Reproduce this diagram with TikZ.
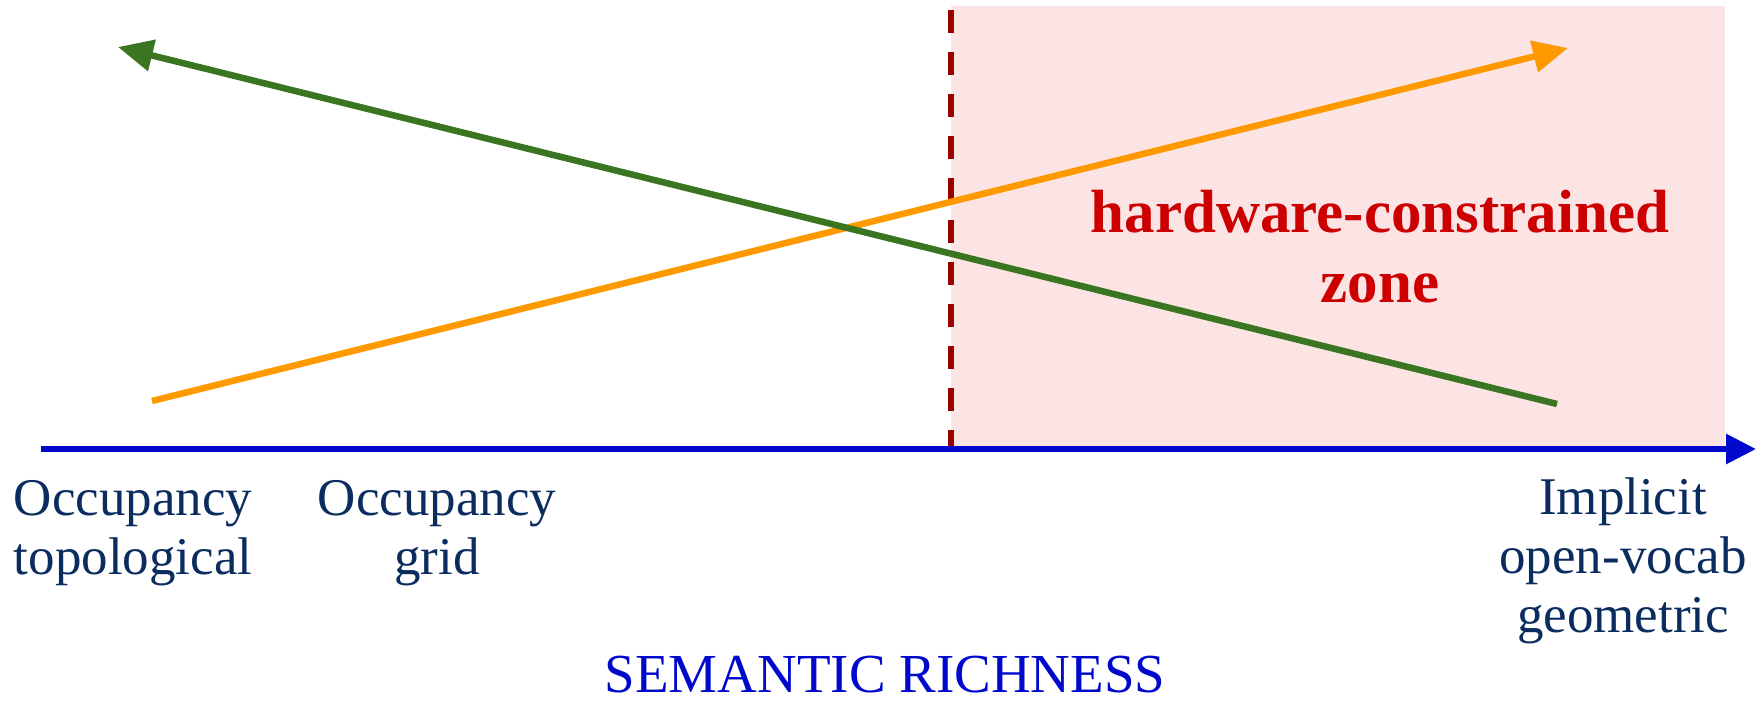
\documentclass[tikz,border=0pt]{standalone}
\usepackage{fontspec}
\setmainfont{Liberation Serif}
\usetikzlibrary{arrows.meta}
\definecolor{axisblue}{RGB}{0,8,204}
\definecolor{lgreen}{RGB}{58,118,34}
\definecolor{lorange}{RGB}{255,153,0}
\definecolor{zonepink}{RGB}{252,228,228}
\definecolor{dashred}{RGB}{153,0,0}
\definecolor{zonered}{RGB}{204,0,0}
\definecolor{labnavy}{RGB}{11,44,95}
\tikzset{
  trend/.style={line width=6.5pt, -{Triangle[length=35pt,width=31pt]}},
  lab/.style={inner sep=0pt, align=center, text=labnavy, font=\fontsize{53}{59}\selectfont, anchor=north},
  zonelab/.style={inner sep=0pt, align=center, text=zonered, font=\bfseries\fontsize{61}{70}\selectfont, anchor=north},
}
\begin{document}
\begin{tikzpicture}[x=1pt,y=-1pt]
\useasboundingbox (0,0) rectangle (1756,702);
% zone
\fill[zonepink] (951,6) rectangle (1725,449);
% dashed boundary
\coordinate (d0) at (951,10);
\coordinate (d1) at (951,449);
\draw[dashred, line width=6pt, dash pattern=on 23pt off 19pt] (d0) -- (d1);
% axis
\coordinate (ax0) at (41,449);
\coordinate (ax1) at (1756,449);
\draw[axisblue, line width=6pt, -{Triangle[length=30pt,width=29pt]}] (ax0) -- (ax1);
% trends
\coordinate (g0) at (1557,404);
\coordinate (g1) at (118,47);
\coordinate (o0) at (152,401);
\coordinate (o1) at (1568,48);
\draw[trend, lorange] (o0) -- (o1);
\draw[trend, lgreen] (g0) -- (g1);
% zone label
\node[zonelab] (zone) at (1380,190) {hardware-constrained\\zone};
% axis labels
\node[lab] (topo) at (133,480) {Occupancy\\topological};
\node[lab] (grid) at (437,480) {Occupancy\\grid};
\node[lab] (impl) at (1623,478) {Implicit\\open-vocab\\geometric};
\node[inner sep=0pt, anchor=base, text=axisblue, font=\fontsize{55}{60}\selectfont] (sem) at (885,692) {SEMANTIC RICHNESS};
\end{tikzpicture}
\end{document}
